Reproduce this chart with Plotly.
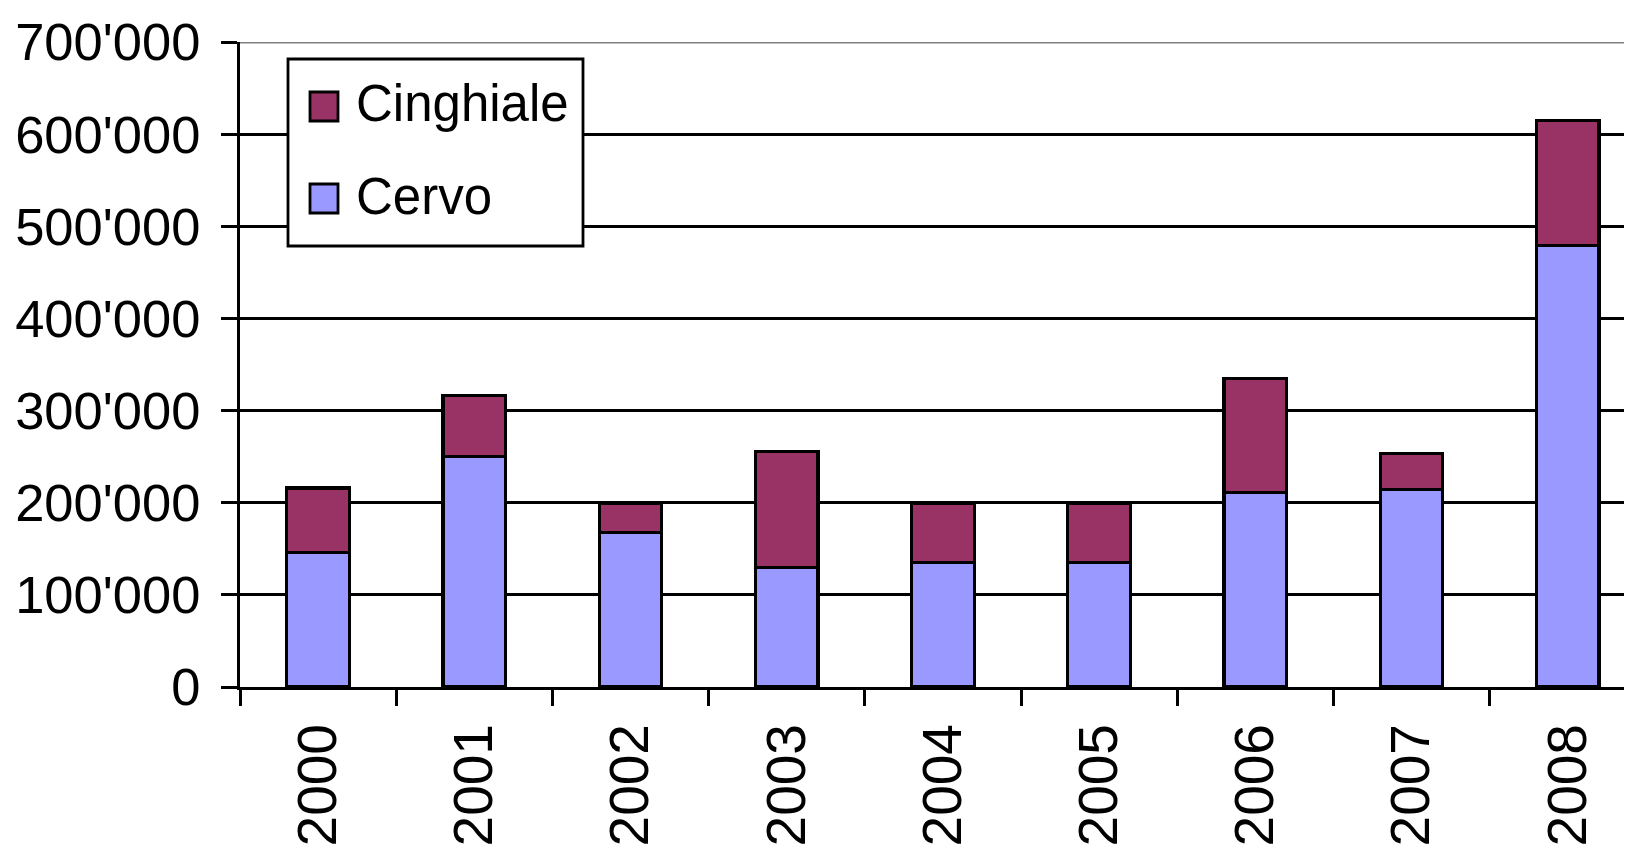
import plotly.graph_objects as go

years = ["2000", "2001", "2002", "2003", "2004", "2005", "2006", "2007", "2008"]
cervo = [146000, 250000, 168000, 130000, 135000, 135000, 211000, 214000, 479000]
cinghiale = [70000, 66000, 31000, 126000, 64000, 64000, 124000, 39000, 136000]
series_colors = {"Cinghiale": "#993366", "Cervo": "#9999FF"}
y_ticks = [0, 100000, 200000, 300000, 400000, 500000, 600000, 700000]

FONT = "Liberation Sans, Arial, sans-serif"
FS = 51
FS_Y = 52.5
FS_X = 55
OFF = 8  # page body margin

fig = go.Figure()
fig.add_trace(go.Bar(x=years, y=cervo, name="Cervo", width=0.4,
                     marker=dict(color=series_colors["Cervo"], line=dict(color="black", width=3.2)),
                     showlegend=False))
fig.add_trace(go.Bar(x=years, y=cinghiale, name="Cinghiale", width=0.4,
                     marker=dict(color=series_colors["Cinghiale"], line=dict(color="black", width=3.2)),
                     showlegend=False))

# Plot area in page pixels
L, T, B = 240, 42, 687
R = OFF + 1632  # plot extends to figure's right edge (clipped by window)
W, H = R - L, B - T
CAT = 156.2
def px(x):
    return (x - L) / W
def py(y):
    return (B - y) / H

shapes = [
    dict(type="line", xref="paper", yref="y", x0=0, x1=1, y0=700000, y1=700000,
         line=dict(color="#808080", width=2.8), layer="above"),
    dict(type="rect", xref="paper", yref="paper", x0=px(288), x1=px(583), y0=py(246), y1=py(59),
         fillcolor="white", line=dict(color="black", width=2.8), layer="above"),
]
annotations = []
legend_rows = [("Cinghiale", 92, 121, 104), ("Cervo", 184, 213, 196)]
for name, y0, y1, yc in legend_rows:
    shapes.append(dict(type="rect", xref="paper", yref="paper", x0=px(310), x1=px(338),
                       y0=py(y1), y1=py(y0), fillcolor=series_colors[name],
                       line=dict(color="black", width=2.8), layer="above"))
    annotations.append(dict(xref="paper", yref="paper", x=px(354), y=py(yc), text=name,
                            showarrow=False, xanchor="left", yanchor="middle",
                            font=dict(family=FONT, size=FS, color="black")))

fig.update_layout(
    barmode="stack",
    width=1632, height=845,
    margin=dict(l=L - OFF, r=0, t=T - OFF, b=845 + OFF - B, pad=0),
    plot_bgcolor="white", paper_bgcolor="white",
    separators=".'",
    font=dict(family=FONT, size=FS, color="black"),
    shapes=shapes, annotations=annotations,
    showlegend=False,
    xaxis=dict(type="category", range=[-0.5, -0.5 + W / CAT], tickangle=-90,
               tickson="boundaries", ticks="outside", ticklen=16, tickwidth=2.8, tickcolor="black",
               showline=True, linecolor="black", linewidth=3.2, showgrid=False,
               ticklabelstandoff=12,
               tickfont=dict(family=FONT, size=FS_X, color="black")),
    yaxis=dict(range=[0, 700000], tickvals=y_ticks, tickformat=",d",
               ticks="outside", ticklen=16, tickwidth=2.8, tickcolor="black",
               showline=True, linecolor="black", linewidth=3.2,
               showgrid=True, gridcolor="black", gridwidth=2.8, zeroline=False,
               ticklabelstandoff=10,
               tickfont=dict(family=FONT, size=FS_Y, color="black")),
)

fig.write_html("out.html")
